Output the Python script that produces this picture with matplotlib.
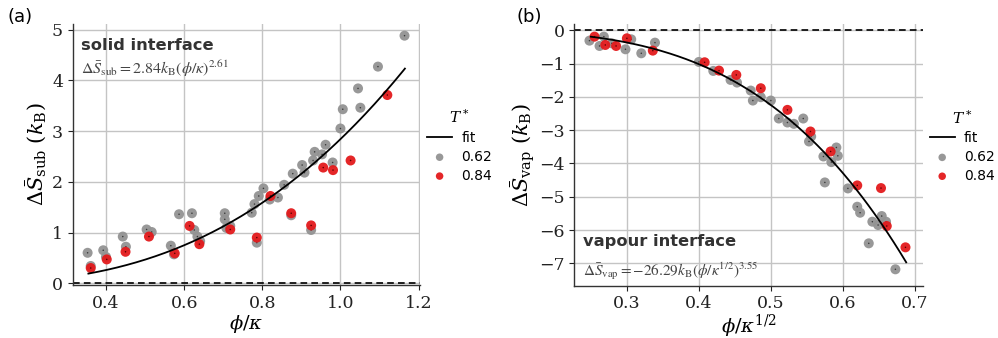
import numpy as np
import matplotlib
matplotlib.use("Agg")
import matplotlib.pyplot as plt

# ---------------- data: panel (a) solid interface ----------------
sub_x_062 = [0.353, 0.361, 0.393, 0.400, 0.443, 0.451, 0.504, 0.517, 0.566, 0.574,
             0.587, 0.620, 0.626, 0.634, 0.641, 0.704, 0.704, 0.708, 0.718, 0.773,
             0.780, 0.791, 0.803, 0.786, 0.819, 0.840, 0.856, 0.878, 0.874, 0.902,
             0.908, 0.925, 0.930, 0.934, 0.953, 0.962, 0.980, 1.000, 1.006, 1.045,
             1.051, 1.096, 1.164]
sub_y_062 = [0.60, 0.34, 0.65, 0.52, 0.92, 0.72, 1.06, 1.01, 0.74, 0.57,
             1.36, 1.38, 1.05, 0.92, 0.83, 1.38, 1.26, 1.09, 1.13, 1.39,
             1.56, 1.72, 1.87, 0.80, 1.65, 1.69, 1.94, 2.16, 1.34, 2.33,
             2.18, 1.05, 2.42, 2.59, 2.54, 2.73, 2.38, 3.05, 3.43, 3.84,
             3.46, 4.27, 4.88]
sub_x_084 = [0.361, 0.402, 0.450, 0.510, 0.576, 0.614, 0.639, 0.718, 0.786, 0.821,
             0.874, 0.925, 0.956, 0.981, 1.026, 1.120]
sub_y_084 = [0.30, 0.47, 0.62, 0.92, 0.59, 1.13, 0.77, 1.06, 0.90, 1.72,
             1.38, 1.14, 2.28, 2.23, 2.42, 3.71]
sub_fit_coef, sub_fit_exp = 2.84, 2.61
sub_fit_range = (0.355, 1.165)

# ---------------- data: panel (b) vapour interface ----------------
vap_x_062 = [0.248, 0.262, 0.268, 0.279, 0.298, 0.306, 0.320, 0.339, 0.400, 0.420,
             0.444, 0.453, 0.472, 0.475, 0.486, 0.500, 0.511, 0.523, 0.532, 0.545,
             0.553, 0.556, 0.573, 0.575, 0.584, 0.591, 0.593, 0.607, 0.620, 0.624,
             0.636, 0.641, 0.649, 0.654, 0.660, 0.673]
vap_y_062 = [-0.31, -0.47, -0.19, -0.39, -0.57, -0.27, -0.69, -0.37, -0.95, -1.22,
             -1.49, -1.57, -1.81, -2.11, -2.01, -2.11, -2.65, -2.77, -2.81, -2.65,
             -3.34, -3.19, -3.79, -4.57, -3.96, -3.52, -3.77, -4.75, -5.30, -5.48,
             -6.40, -5.75, -5.85, -5.58, -5.75, -7.18]
vap_x_084 = [0.255, 0.270, 0.285, 0.300, 0.336, 0.408, 0.428, 0.452, 0.486, 0.523,
             0.555, 0.583, 0.620, 0.653, 0.661, 0.687]
vap_y_084 = [-0.19, -0.44, -0.47, -0.24, -0.61, -0.96, -1.21, -1.34, -1.74, -2.39,
             -3.04, -3.64, -4.66, -4.74, -5.88, -6.52]
vap_fit_coef, vap_fit_exp = -26.29, 3.55
vap_fit_range = (0.250, 0.688)

legend_labels = ["fit", "0.62", "0.84"]

# ---------------- style ----------------
plt.rcParams["font.family"] = ["DejaVu Serif"]
plt.rcParams["mathtext.fontset"] = "dejavuserif"

GRAY = "#939393"
RED = "#e31a1c"
DARK = "#333333"

fig = plt.figure(figsize=(9.98, 3.38), dpi=100)
axA = fig.add_axes([0.0729, 0.156, 0.3481, 0.773])
axB = fig.add_axes([0.5755, 0.155, 0.3491, 0.774])


def style_axis(ax):
    ax.grid(True, color="#c4c4c4", linewidth=1.0)
    ax.set_axisbelow(True)
    for s in ["top", "right"]:
        ax.spines[s].set_visible(False)
    for s in ["left", "bottom"]:
        ax.spines[s].set_color(DARK)
        ax.spines[s].set_linewidth(1.0)
    ax.tick_params(axis="both", labelsize=12.5, colors="#222222", length=3.5,
                   width=0.8, direction="out")


def draw(ax, x62, y62, x84, y84, coef, expo, frange):
    xf = np.linspace(frange[0], frange[1], 200)
    ax.axhline(0, color="black", linestyle=(0, (4, 2.5)), linewidth=1.2, zorder=2)
    hfit, = ax.plot(xf, coef * xf ** expo, color="black", linewidth=1.3, zorder=5)
    h62 = ax.scatter(x62, y62, s=52, color=GRAY, alpha=0.95, edgecolors="none", zorder=3)
    ax.scatter(x62, y62, s=1.2, color="#3a3a3a", edgecolors="none", zorder=3.5)
    h84 = ax.scatter(x84, y84, s=52, color=RED, alpha=0.95, edgecolors="none", zorder=4)
    ax.scatter(x84, y84, s=1.2, color="#5a0000", edgecolors="none", zorder=4.5)
    leg = ax.legend([hfit, h62, h84], legend_labels, title=r"$T^*$",
                    loc="center left", bbox_to_anchor=(1.0, 0.535), frameon=False,
                    prop={"family": "DejaVu Sans", "size": 10}, markerscale=0.75,
                    handlelength=1.8, handletextpad=0.65, labelspacing=0.35,
                    borderaxespad=0.2, borderpad=0.3)
    leg.get_title().set_fontsize(11)
    return leg


style_axis(axA)
draw(axA, sub_x_062, sub_y_062, sub_x_084, sub_y_084, sub_fit_coef, sub_fit_exp, sub_fit_range)
axA.set_xlim(0.315, 1.204)
axA.set_ylim(-0.04, 5.11)
axA.set_xticks([0.4, 0.6, 0.8, 1.0, 1.2])
axA.set_yticks([0, 1, 2, 3, 4, 5])
axA.set_xlabel(r"$\phi/\kappa$", fontsize=14, labelpad=1)
axA.set_ylabel(r"$\Delta\bar{S}_{\rm sub}\ (k_{\rm B})$", fontsize=15, labelpad=2)
axA.text(0.024, 0.90, "solid interface", transform=axA.transAxes, family="DejaVu Sans",
         fontweight="bold", fontsize=11.7, color="#333333")
axA.text(0.024, 0.81, r"$\Delta\bar{S}_{\rm sub} = 2.84k_{\rm B}(\phi/\kappa)^{2.61}$",
         transform=axA.transAxes, fontsize=11.5, color="#444444", math_fontfamily="stix")

style_axis(axB)
draw(axB, vap_x_062, vap_y_062, vap_x_084, vap_y_084, vap_fit_coef, vap_fit_exp, vap_fit_range)
axB.set_xlim(0.227, 0.711)
axB.set_ylim(-7.67, 0.19)
axB.set_xticks([0.3, 0.4, 0.5, 0.6, 0.7])
axB.set_yticks([0, -1, -2, -3, -4, -5, -6, -7])
axB.set_xlabel(r"$\phi/\kappa^{1/2}$", fontsize=14, labelpad=0)
axB.set_ylabel(r"$\Delta\bar{S}_{\rm vap}\ (k_{\rm B})$", fontsize=15, labelpad=1)
axB.text(0.026, 0.152, "vapour interface", transform=axB.transAxes, family="DejaVu Sans",
         fontweight="bold", fontsize=11.7, color="#333333")
axB.text(0.026, 0.037, r"$\Delta\bar{S}_{\rm vap} = -26.29k_{\rm B}(\phi/\kappa^{1/2})^{3.55}$",
         transform=axB.transAxes, fontsize=11, color="#444444", math_fontfamily="stix")

fig.text(0.008, 0.975, "(a)", family="DejaVu Sans", fontsize=13, va="top")
fig.text(0.518, 0.975, "(b)", family="DejaVu Sans", fontsize=13, va="top")

fig.savefig("out.png", dpi=100)
